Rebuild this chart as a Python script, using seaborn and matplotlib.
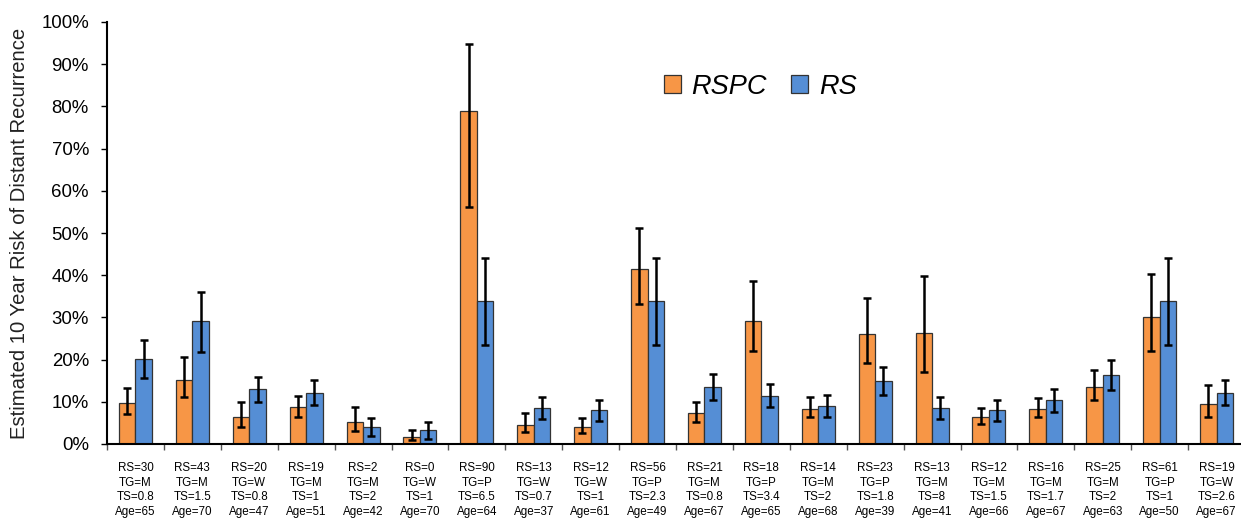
import matplotlib
matplotlib.use("Agg")
import matplotlib.pyplot as plt
from matplotlib.ticker import PercentFormatter, FixedLocator
from matplotlib.patches import Patch
import numpy as np
import pandas as pd
import seaborn as sns

# Patient profiles shown under each group
rs_scores = [30, 43, 20, 19, 2, 0, 90, 13, 12, 56, 21, 18, 14, 23, 13, 12, 16, 25, 61, 19]
tumor_grade = ["M", "M", "W", "M", "M", "W", "P", "W", "W", "P",
               "M", "P", "M", "P", "M", "M", "M", "M", "P", "W"]
tumor_size = ["0.8", "1.5", "0.8", "1", "2", "1", "6.5", "0.7", "1", "2.3",
              "0.8", "3.4", "2", "1.8", "8", "1.5", "1.7", "2", "1", "2.6"]
ages = [65, 70, 47, 51, 42, 70, 64, 37, 61, 49, 67, 65, 68, 39, 41, 66, 67, 63, 50, 67]

# Estimated 10-year distant recurrence risk (%) with confidence limits
rspc = [9.8, 15.2, 6.3, 8.7, 5.1, 1.7, 79.0, 4.6, 4.0, 41.4,
        7.4, 29.2, 8.2, 26.1, 26.4, 6.3, 8.3, 13.5, 30.2, 9.5]
rspc_lo = [7.0, 11.1, 4.1, 6.4, 3.0, 0.9, 56.1, 2.9, 2.7, 33.2,
           5.2, 22.0, 6.5, 19.1, 17.1, 4.7, 6.5, 10.4, 22.0, 6.5]
rspc_hi = [13.3, 20.5, 9.9, 11.4, 8.8, 3.3, 94.8, 7.3, 6.2, 51.3,
           9.9, 38.6, 11.1, 34.7, 39.8, 8.5, 10.8, 17.5, 40.4, 14.0]

rs = [20.1, 29.2, 13.0, 12.0, 4.0, 3.4, 33.8, 8.6, 8.0, 33.9,
      13.4, 11.4, 9.1, 14.9, 8.6, 8.0, 10.4, 16.4, 33.9, 12.0]
rs_lo = [15.6, 21.7, 9.9, 9.2, 1.9, 1.3, 23.4, 5.9, 5.5, 23.4,
         10.4, 8.8, 6.5, 11.5, 5.9, 5.5, 7.6, 12.7, 23.4, 9.2]
rs_hi = [24.6, 36.0, 15.9, 15.2, 6.2, 5.3, 44.1, 11.1, 10.5, 44.1,
         16.6, 14.2, 11.5, 18.2, 11.1, 10.5, 13.0, 19.9, 44.1, 15.2]

series_names = ["RSPC", "RS"]
series_colors = ["#F79646", "#558ED5"]

labels = [f"RS={r}\nTG={g}\nTS={s}\nAge={a}"
          for r, g, s, a in zip(rs_scores, tumor_grade, tumor_size, ages)]

df = pd.DataFrame({
    "group": labels * 2,
    "model": ["RSPC"] * len(labels) + ["RS"] * len(labels),
    "risk": np.array(rspc + rs) / 100.0,
})

sns.set_style("white")
plt.rcParams["font.family"] = ["Liberation Sans", "DejaVu Sans"]
plt.rcParams["text.color"] = "black"
plt.rcParams["axes.labelcolor"] = "black"
plt.rcParams["xtick.color"] = "black"
plt.rcParams["ytick.color"] = "black"

W, H = 1241, 519
fig = plt.figure(figsize=(W / 100, H / 100), dpi=100)
left_px, right_px, top_px, bottom_px = 107, 1245, 22, 444
ax = fig.add_axes([left_px / W, (H - bottom_px) / H,
                   (right_px - left_px) / W, (bottom_px - top_px) / H])

sns.barplot(data=df, x="group", y="risk", hue="model", hue_order=series_names,
            palette=series_colors, width=0.58, gap=0, errorbar=None,
            edgecolor="#333333", linewidth=0.9, saturation=1, legend=False, ax=ax)

# Asymmetric confidence intervals on top of each bar
for cont, vals, lo, hi in zip(ax.containers, [rspc, rs], [rspc_lo, rs_lo], [rspc_hi, rs_hi]):
    xs = [b.get_x() + b.get_width() / 2 for b in cont]
    v = np.array(vals) / 100.0
    yerr = np.vstack([v - np.array(lo) / 100.0, np.array(hi) / 100.0 - v])
    ax.errorbar(xs, v, yerr=yerr, fmt="none", ecolor="black",
                elinewidth=1.8, capsize=3.2, capthick=1.8, zorder=5)

n = len(labels)
ax.set_xlim(-0.5, n - 0.5)
ax.set_ylim(0, 1.0)
ax.yaxis.set_major_locator(FixedLocator(np.arange(0, 1.01, 0.1)))
ax.yaxis.set_major_formatter(PercentFormatter(xmax=1.0, decimals=0))
ax.tick_params(axis="y", which="major", labelsize=13.4, length=4.5, width=1,
               color="black", labelcolor="black", direction="out", left=True, pad=8.5)

# Category labels centred, tick marks on category boundaries
ax.set_xticks(range(n))
ax.set_xticklabels(labels, fontsize=8.4, linespacing=1.3, color="black")
ax.set_xticks(np.arange(-0.5, n, 1.0), minor=True)
ax.tick_params(axis="x", which="major", length=0, pad=13)
ax.tick_params(axis="x", which="minor", length=4, width=1, color="#555555",
               direction="out", bottom=True)

for side in ["top", "right"]:
    ax.spines[side].set_visible(False)
for side in ["left", "bottom"]:
    ax.spines[side].set_color("black")
    ax.spines[side].set_linewidth(1.5)

ax.set_xlabel("")
ax.set_ylabel("Estimated 10 Year Risk of Distant Recurrence", fontsize=14.6,
              labelpad=9, color="#222222")
ax.grid(False)

handles = [Patch(facecolor=c, edgecolor="#333333", linewidth=0.9) for c in series_colors]
leg = ax.legend(handles, series_names, loc="center", bbox_to_anchor=(0.574, 0.847),
                ncol=2, frameon=False, prop={"style": "italic", "size": 19.5},
                handlelength=0.62, handleheight=0.62, handletextpad=0.4,
                columnspacing=0.9, labelcolor="black")

fig.savefig("out.png", dpi=100)
